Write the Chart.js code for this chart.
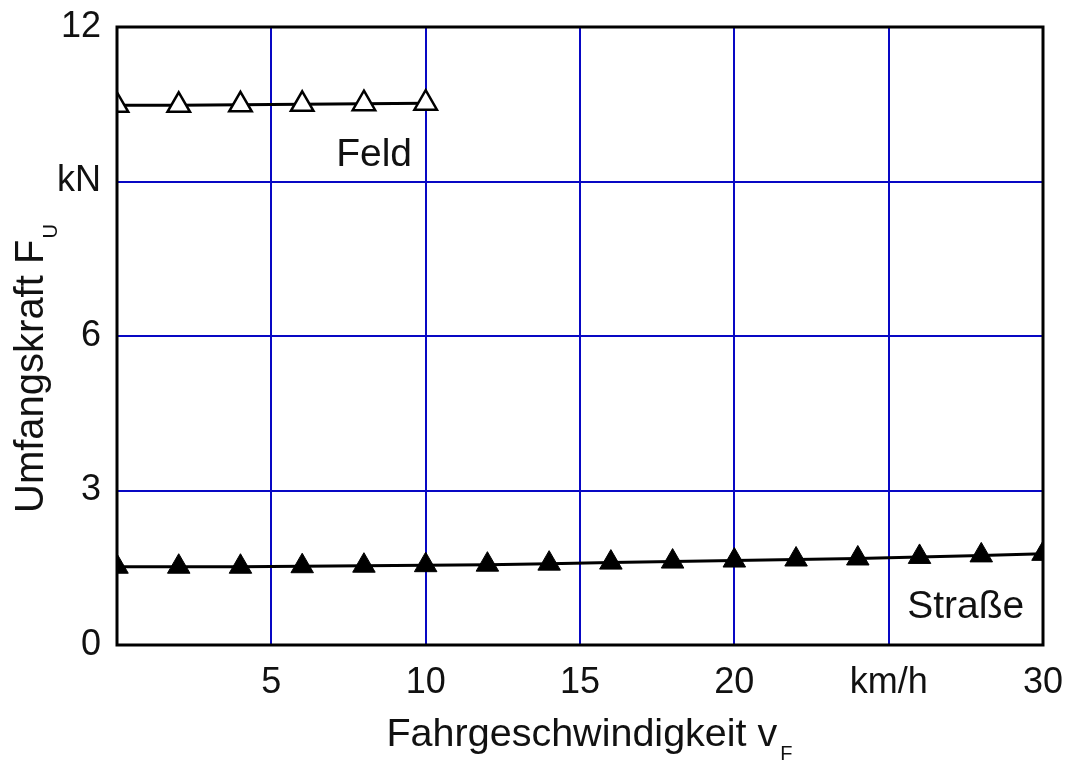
<!DOCTYPE html>
<html>
<head>
<meta charset="utf-8">
<script src="https://cdn.jsdelivr.net/npm/chart.js@4.4.0/dist/chart.umd.min.js"></script>
<style>
    html, body { margin: 0; padding: 0; background: #fff; }
</style>
</head>
<body>
<canvas id="umfangskraft-chart" width="1066" height="763"></canvas>
<script>
// values
const speedFeld = [0, 2, 4, 6, 8, 10];
const forceFeld = [10.48, 10.48, 10.49, 10.50, 10.51, 10.52];

const speedStrasse = [0, 2, 4, 6, 8, 10, 12, 14, 16, 18, 20, 22, 24, 26, 28, 30];
const forceStrasse = [1.52, 1.52, 1.52, 1.53, 1.54, 1.55, 1.56, 1.58, 1.60, 1.62, 1.64, 1.66, 1.68, 1.71, 1.74, 1.77];

const xTickLabels = ['', '5', '10', '15', '20', 'km/h', '30'];
const yTickLabels = ['0', '3', '6', 'kN', '12'];

const FONT = "'Liberation Sans', Arial, sans-serif";
const GRID_BLUE = '#0808c4';

const toPoints = (xs, ys) => xs.map((x, i) => ({ x: x, y: ys[i] }));

// frame, axis titles with subscripts and the two curve labels
const framePlugin = {
    id: 'frameAndTexts',
    afterDraw(chart) {
        const ctx = chart.ctx;
        const area = chart.chartArea;
        const xScale = chart.scales.x;
        const yScale = chart.scales.y;

        ctx.save();
        ctx.strokeStyle = '#000';
        ctx.lineWidth = 3;
        ctx.strokeRect(area.left, area.top, area.right - area.left, area.bottom - area.top);

        ctx.fillStyle = '#111';
        ctx.textBaseline = 'alphabetic';
        ctx.textAlign = 'left';

        // x title
        ctx.font = '39.5px ' + FONT;
        const xMain = 'Fahrgeschwindigkeit v';
        const xMainW = ctx.measureText(xMain).width;
        ctx.font = '20px ' + FONT;
        const xSubW = ctx.measureText('F').width;
        let startX = (area.left + area.right) / 2 + 8 - (xMainW + xSubW) / 2;
        ctx.font = '39.5px ' + FONT;
        ctx.fillText(xMain, startX, 746);
        ctx.font = '20px ' + FONT;
        ctx.fillText('F', startX + xMainW + 3, 760);

        // y title, rotated
        ctx.save();
        ctx.translate(43, 513);
        ctx.rotate(-Math.PI / 2);
        ctx.font = '40px ' + FONT;
        const yMain = 'Umfangskraft F';
        const yMainW = ctx.measureText(yMain).width;
        ctx.fillText(yMain, 0, 0);
        ctx.font = '20px ' + FONT;
        ctx.fillText('U', yMainW + 1, 14);
        ctx.restore();

        // curve labels
        ctx.font = '39px ' + FONT;
        ctx.fillText('Feld', xScale.getPixelForValue(7.1), yScale.getPixelForValue(9.3));
        ctx.fillText('Straße', xScale.getPixelForValue(25.6), yScale.getPixelForValue(0.53));
        ctx.restore();
    }
};

const umfangskraftChart = new Chart(document.querySelector('#umfangskraft-chart'), {
    type: 'line',
    data: {
        datasets: [
            {
                label: 'Feld',
                data: toPoints(speedFeld, forceFeld),
                borderColor: '#000',
                borderWidth: 3,
                pointStyle: 'triangle',
                pointRadius: 13,
                pointBackgroundColor: '#fff',
                pointBorderColor: '#000',
                pointBorderWidth: 2.5,
                clip: 0
            },
            {
                label: 'Straße',
                data: toPoints(speedStrasse, forceStrasse),
                borderColor: '#000',
                borderWidth: 3,
                pointStyle: 'triangle',
                pointRadius: 13,
                pointBackgroundColor: '#000',
                pointBorderColor: '#000',
                pointBorderWidth: 1,
                clip: 0
            }
        ]
    },
    options: {
        responsive: false,
        animation: false,
        layout: {
            padding: { top: 27, right: 23, left: 0, bottom: 0 }
        },
        plugins: {
            legend: { display: false },
            tooltip: { enabled: false }
        },
        scales: {
            x: {
                type: 'linear',
                min: 0,
                max: 30,
                afterFit: (scale) => {
                    scale.height = 118;
                    scale.paddingLeft = 0;
                    scale.paddingRight = 0;
                },
                grid: { color: GRID_BLUE, lineWidth: 2, drawTicks: false },
                border: { display: false },
                ticks: {
                    stepSize: 5,
                    padding: 16,
                    color: '#111',
                    font: { family: FONT, size: 36 },
                    maxRotation: 0,
                    callback: (value, index) => xTickLabels[index]
                }
            },
            y: {
                type: 'linear',
                min: 0,
                max: 12,
                afterFit: (scale) => {
                    scale.width = 117;
                    scale.paddingTop = 0;
                    scale.paddingBottom = 0;
                },
                grid: { color: GRID_BLUE, lineWidth: 2, drawTicks: false },
                border: { display: false },
                ticks: {
                    stepSize: 3,
                    padding: 16,
                    color: '#111',
                    font: { family: FONT, size: 36 },
                    callback: (value, index) => yTickLabels[index]
                }
            }
        }
    },
    plugins: [framePlugin]
});
</script>
</body>
</html>
